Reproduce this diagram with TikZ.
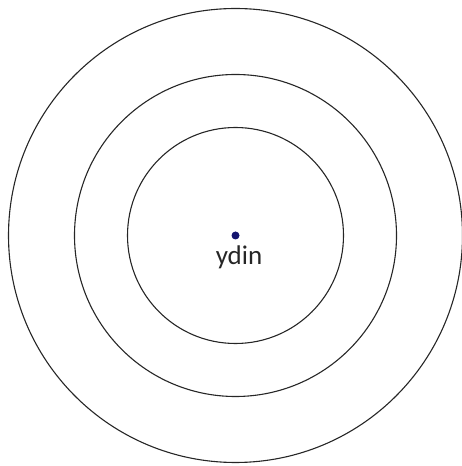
\documentclass[tikz,border=0pt]{standalone}
\usepackage{fontspec}
\setmainfont{Carlito}
\definecolor{kern}{RGB}{20,20,110}
\begin{document}
\begin{tikzpicture}[x=1pt,y=1pt]
	\useasboundingbox(0,0)rectangle(462,466);
	\coordinate(o)at(235.5,230.5);
	\foreach \r in {108,161,227}
		\draw[line width=1.1pt,black!85](o)circle(\r);
	\fill[kern](o)circle(4);
	\node[anchor=base,inner sep=0pt,font=\fontsize{27}{31}\selectfont,black!85](ydin)at(239,201){ydin};
\end{tikzpicture}
\end{document}
